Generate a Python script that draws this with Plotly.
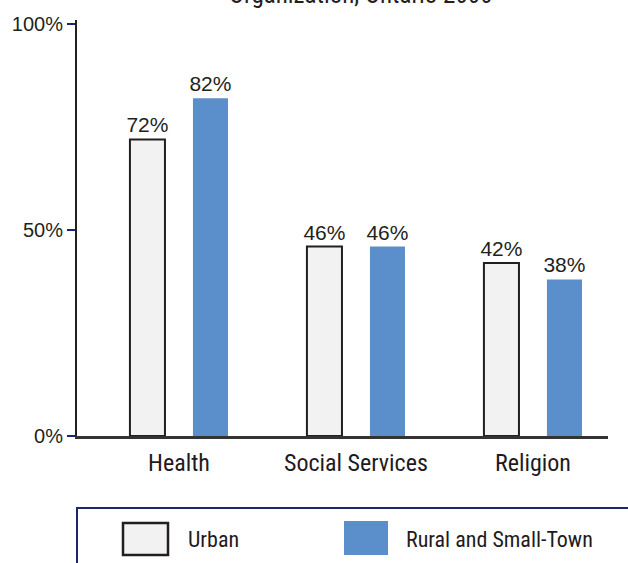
import plotly.graph_objects as go

categories = ["Health", "Social Services", "Religion"]
urban = [72, 46, 42]
rural = [82, 46, 38]
urban_labels = ["72%", "46%", "42%"]
rural_labels = ["82%", "46%", "38%"]
series_names = ["Urban", "Rural and Small-Town"]
y_tick_vals = [0, 50, 100]
y_tick_text = ["0%", "50%", "100%"]
title_text = "Organization, Ontario 2000"

FONT = "Liberation Sans, Arial, sans-serif"
COND = "Roboto Condensed, Liberation Sans, sans-serif"
URBAN_FILL = "#f2f2f2"
URBAN_LINE = "#231f20"
RURAL_FILL = "#5b8fcb"
NAVY = "#1b2670"

L, R, T, B = 77, 20, 20, 127
PW = 628 - L - R
PH = 563 - T - B

fig = go.Figure()
fig.add_trace(go.Bar(
    x=categories, y=urban, name=series_names[0],
    marker=dict(color=URBAN_FILL, line=dict(color=URBAN_LINE, width=2)),
    text=urban_labels, textposition="outside", constraintext="none",
    textfont=dict(family=FONT, size=21, color="#231f20"),
    cliponaxis=False,
))
fig.add_trace(go.Bar(
    x=categories, y=rural, name=series_names[1],
    marker=dict(color=RURAL_FILL, line=dict(width=0)),
    text=rural_labels, textposition="outside", constraintext="none",
    textfont=dict(family=FONT, size=21, color="#231f20"),
    cliponaxis=False,
))

fig.update_layout(
    width=628, height=563,
    margin=dict(l=L, r=R, t=T, b=B),
    paper_bgcolor="white", plot_bgcolor="white",
    barmode="group", bargap=0.288, bargroupgap=0.444,
    showlegend=False,
    font=dict(family=FONT, color="#231f20"),
)
fig.update_xaxes(
    range=[-0.576, 2.424],
    showline=True, linecolor="#333333", linewidth=3,
    ticks="", showgrid=False, zeroline=False,
    tickfont=dict(family=COND, size=24, color="#1f1b1c"),
    ticklabelstandoff=3,
)
fig.update_yaxes(
    range=[0, 101],
    tickvals=y_tick_vals, ticktext=y_tick_text,
    showline=True, linecolor="#231f20", linewidth=2,
    ticks="outside", ticklen=8, tickcolor=NAVY, tickwidth=1.5,
    showgrid=False, zeroline=False,
    tickfont=dict(family=FONT, size=20, color="#231f20"),
)

def px(xp):
    return (xp - L) / PW

def py(yp):
    return (563 - B - yp) / PH

fig.add_annotation(
    text=title_text, xref="paper", yref="paper",
    x=px(360), y=py(11),
    xanchor="center", yanchor="bottom", showarrow=False,
    font=dict(family=COND, size=25, color="#231f20"),
)

fig.add_shape(type="rect", xref="paper", yref="paper",
              x0=0, x1=1.5, y0=-0.6, y1=py(508),
              line=dict(color=NAVY, width=2), fillcolor="rgba(0,0,0,0)")
fig.add_shape(type="rect", xref="paper", yref="paper",
              x0=px(123), x1=px(168), y0=py(555), y1=py(523),
              line=dict(color=URBAN_LINE, width=2.5), fillcolor=URBAN_FILL)
fig.add_shape(type="rect", xref="paper", yref="paper",
              x0=px(344), x1=px(388), y0=py(555), y1=py(521),
              line=dict(width=0), fillcolor=RURAL_FILL)
fig.add_annotation(text=series_names[0], xref="paper", yref="paper",
                   x=px(186), y=py(539),
                   xanchor="left", yanchor="middle", showarrow=False,
                   font=dict(family=COND, size=22, color="#1f1b1c"))
fig.add_annotation(text=series_names[1], xref="paper", yref="paper",
                   x=px(404), y=py(539),
                   xanchor="left", yanchor="middle", showarrow=False,
                   font=dict(family=COND, size=22, color="#1f1b1c"))

fig.write_html("out.html", config={"displayModeBar": False},
               post_script="document.body.style.margin='0';")
